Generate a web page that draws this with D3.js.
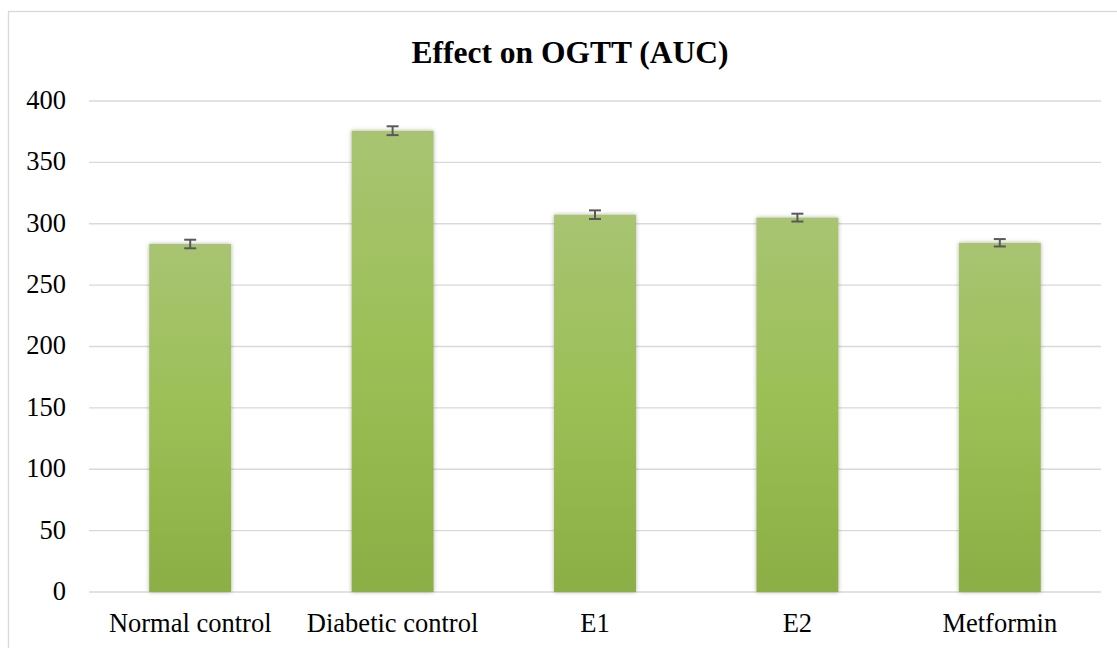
<!DOCTYPE html>
<html><head><meta charset="utf-8">
<script src="https://cdn.jsdelivr.net/npm/d3@7"></script>
<style>html,body{margin:0;padding:0;background:#fff;overflow:hidden}
svg text{font-family:"Liberation Serif","Times New Roman",Tinos,"DejaVu Serif",serif;}</style>
</head><body>
<svg id="c" width="1117" height="648"></svg>
<script>
const categories = ["Normal control","Diabetic control","E1","E2","Metformin"];
const values = [283.5, 375.8, 307.4, 305.0, 284.5];
const errors = [3.5, 3.6, 3.5, 3.2, 3.0];
const yTicks = [0,50,100,150,200,250,300,350,400];
const title = "Effect on OGTT (AUC)";

const svg = d3.select("#c");
const m = {left: 89, right: 1101, top: 101, bottom: 592};

// chart border
svg.append("rect").attr("x", 8.5).attr("y", 11.5).attr("width", 1140).attr("height", 700)
  .attr("fill", "none").attr("stroke", "#d9d9d9").attr("stroke-width", 1.3);

const defs = svg.append("defs");
const grad = defs.append("linearGradient").attr("id","g").attr("x1",0).attr("y1",0).attr("x2",0).attr("y2",1);
grad.append("stop").attr("offset","0%").attr("stop-color","#a8c472");
grad.append("stop").attr("offset","50%").attr("stop-color","#9bbf55");
grad.append("stop").attr("offset","100%").attr("stop-color","#8bae45");
const f = defs.append("filter").attr("id","sh").attr("x","-20%").attr("y","-5%").attr("width","140%").attr("height","110%");
f.append("feDropShadow").attr("dx",0).attr("dy",0).attr("stdDeviation",2.2).attr("flood-color","#000").attr("flood-opacity",0.3);

const x = d3.scaleBand().domain(categories).range([m.left, m.right]).paddingInner(0.595).paddingOuter(0.2975);
const y = d3.scaleLinear().domain([0,400]).range([m.bottom, m.top]);

// gridlines
svg.append("g").selectAll("line").data(yTicks).join("line")
  .attr("x1", m.left).attr("x2", m.right)
  .attr("y1", d => y(d)).attr("y2", d => y(d))
  .attr("stroke", "#d9d9d9").attr("stroke-width", 1.3);

// y labels
svg.append("g").selectAll("text").data(yTicks).join("text")
  .attr("x", 66).attr("y", d => y(d)).attr("dy", "0.3em")
  .attr("text-anchor", "end").attr("font-size", 26.5)
  .attr("fill", "#000").text(d => d);

// bars
svg.append("g").selectAll("rect").data(categories).join("rect")
  .attr("x", d => x(d)).attr("width", x.bandwidth())
  .attr("y", (d,i) => y(values[i])).attr("height", (d,i) => y(0) - y(values[i]))
  .attr("fill", "url(#g)").attr("filter", "url(#sh)");

// error bars
const eg = svg.append("g").attr("stroke", "#595959").attr("stroke-width", 2);
categories.forEach((c,i) => {
  const cx = x(c) + x.bandwidth()/2;
  const y1 = y(values[i] + errors[i]), y2 = y(values[i] - errors[i]);
  eg.append("line").attr("x1", cx).attr("x2", cx).attr("y1", y1).attr("y2", y2);
  eg.append("line").attr("x1", cx-6).attr("x2", cx+6).attr("y1", y1).attr("y2", y1);
  eg.append("line").attr("x1", cx-6).attr("x2", cx+6).attr("y1", y2).attr("y2", y2);
});

// x labels
svg.append("g").selectAll("text").data(categories).join("text")
  .attr("x", d => x(d) + x.bandwidth()/2).attr("y", 632)
  .attr("text-anchor", "middle").attr("font-size", 26.5)
  .attr("fill", "#000").text(d => d);

// title
svg.append("text").attr("x", 570).attr("y", 62.5).attr("text-anchor", "middle")
  .attr("font-size", 31.5).attr("font-weight", "bold")
  .attr("fill", "#000").text(title);
</script>
</body></html>
